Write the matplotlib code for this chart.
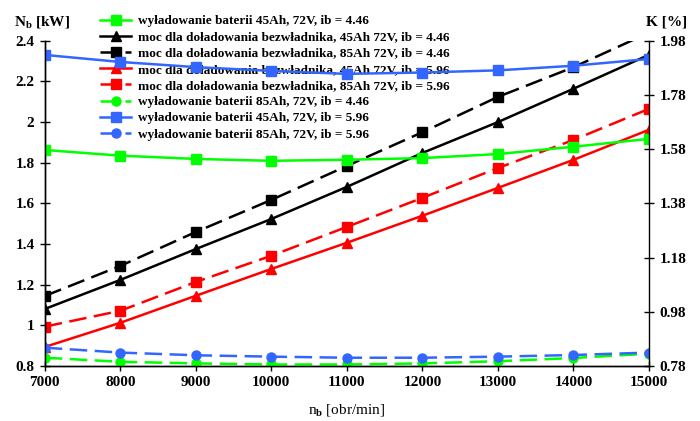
"""Moc doladowania i wyladowanie baterii w funkcji predkosci obrotowej"""
import matplotlib
matplotlib.use("Agg")
import matplotlib.pyplot as plt
from matplotlib.ticker import FixedLocator, FormatStrFormatter

plt.rcParams["font.family"] = "Liberation Serif"
plt.rcParams["font.weight"] = "bold"
plt.rcParams["font.size"] = 11
plt.rcParams["mathtext.fontset"] = "custom"
plt.rcParams["mathtext.rm"] = "Liberation Serif:bold"
plt.rcParams["mathtext.bf"] = "Liberation Serif:bold"
plt.rcParams["mathtext.it"] = "Liberation Serif:bold:italic"

# predkosc obrotowa [obr/min]
n_b = [7000, 8000, 9000, 10000, 11000, 12000, 13000, 14000, 15000]

# moc dla doladowania bezwladnika [kW] (lewa os)
moc_45_446 = [1.08, 1.223, 1.375, 1.523, 1.681, 1.848, 2.0, 2.164, 2.331]
moc_85_446 = [1.144, 1.292, 1.459, 1.617, 1.784, 1.95, 2.124, 2.27, 2.44]
moc_45_596 = [0.893, 1.012, 1.145, 1.277, 1.406, 1.539, 1.676, 1.814, 1.962]
moc_85_596 = [0.993, 1.071, 1.213, 1.342, 1.484, 1.627, 1.774, 1.912, 2.065]

# wyladowanie baterii K [%] (prawa os)
wyl_45_446 = [1.577, 1.556, 1.544, 1.537, 1.541, 1.547, 1.562, 1.589, 1.618]
wyl_85_446 = [0.81, 0.795, 0.789, 0.785, 0.785, 0.789, 0.797, 0.809, 0.825]
wyl_45_596 = [1.928, 1.902, 1.883, 1.869, 1.858, 1.863, 1.871, 1.888, 1.913]
wyl_85_596 = [0.847, 0.829, 0.819, 0.814, 0.81, 0.81, 0.814, 0.82, 0.829]

left_ticks = [0.8, 1.0, 1.2, 1.4, 1.6, 1.8, 2.0, 2.2, 2.4]
left_labels = ["0.8", "1", "1.2", "1.4", "1.6", "1.8", "2", "2.2", "2.4"]
right_ticks = [0.78, 0.98, 1.18, 1.38, 1.58, 1.78, 1.98]

GREEN = "#00ff00"
BLUE = "#3366ff"
RED = "#ff0000"
BLACK = "#000000"
lw = 1.8
ms = 6.5
dash = (7, 3)

fig = plt.figure(figsize=(7, 4.21), dpi=100)
ax = fig.add_axes([0.064, 0.131, 0.863, 0.772])
ax2 = ax.twinx()

h_g1, = ax2.plot(n_b, wyl_45_446, color=GREEN, lw=lw, marker="s", ms=ms,
                 label="wyładowanie baterii 45Ah, 72V, ib = 4.46")
h_k1, = ax.plot(n_b, moc_45_446, color=BLACK, lw=lw, marker="^", ms=ms + 0.5,
                label="moc dla doładowania bezwładnika, 45Ah 72V, ib = 4.46")
h_k2, = ax.plot(n_b, moc_85_446, color=BLACK, lw=lw, marker="s", ms=ms, dashes=dash,
                label="moc dla doładowania bezwładnika, 85Ah 72V, ib = 4.46")
h_r1, = ax.plot(n_b, moc_45_596, color=RED, lw=lw, marker="^", ms=ms + 0.5,
                label="moc dla doładowania bezwładnika, 45Ah 72V, ib = 5.96")
h_r2, = ax.plot(n_b, moc_85_596, color=RED, lw=lw, marker="s", ms=ms, dashes=dash,
                label="moc dla doładowania bezwładnika, 85Ah 72V, ib = 5.96")
h_g2, = ax2.plot(n_b, wyl_85_446, color=GREEN, lw=lw, marker="o", ms=ms, dashes=dash,
                 label="wyładowanie baterii 85Ah, 72V, ib = 4.46")
h_b1, = ax2.plot(n_b, wyl_45_596, color=BLUE, lw=lw, marker="s", ms=ms,
                 label="wyładowanie baterii 45Ah, 72V, ib = 5.96")
h_b2, = ax2.plot(n_b, wyl_85_596, color=BLUE, lw=lw, marker="o", ms=ms, dashes=dash,
                 label="wyładowanie baterii 85Ah, 72V, ib = 5.96")

ax.set_xlim(7000, 15000)
ax.set_ylim(0.8, 2.4)
ax2.set_ylim(0.78, 1.98)
ax.set_xticks(n_b)
ax.set_xticklabels([str(v) for v in n_b])
ax.set_yticks(left_ticks)
ax.set_yticklabels(left_labels)
ax2.yaxis.set_major_locator(FixedLocator(right_ticks))
ax2.yaxis.set_major_formatter(FormatStrFormatter("%.2f"))

for a in (ax, ax2):
    a.spines["top"].set_visible(False)
    for s in a.spines.values():
        s.set_linewidth(1.0)
    a.tick_params(which="both", direction="inout", length=7, width=1.0, pad=4)
ax.spines["right"].set_visible(False)
ax.tick_params(axis="x", pad=4)

ax.set_xlabel("n$_{\\mathrm{b}}$ [obr/min]", labelpad=9)
fig.text(0.02, 0.948, "N$_{\\mathrm{b}}$ [kW]", ha="left", va="center")
fig.text(0.981, 0.948, "K [%]", ha="right", va="center")

handles = [h_g1, h_k1, h_k2, h_r1, h_r2, h_g2, h_b1, h_b2]
ax.legend(handles=handles, loc="upper left", bbox_to_anchor=(0.135, 0.977),
          bbox_transform=fig.transFigure, frameon=False, handlelength=2.4,
          handletextpad=0.5, labelspacing=0.3, borderaxespad=0.2,
          borderpad=0.2, fontsize=9.5)

fig.savefig("out.png", dpi=100)
